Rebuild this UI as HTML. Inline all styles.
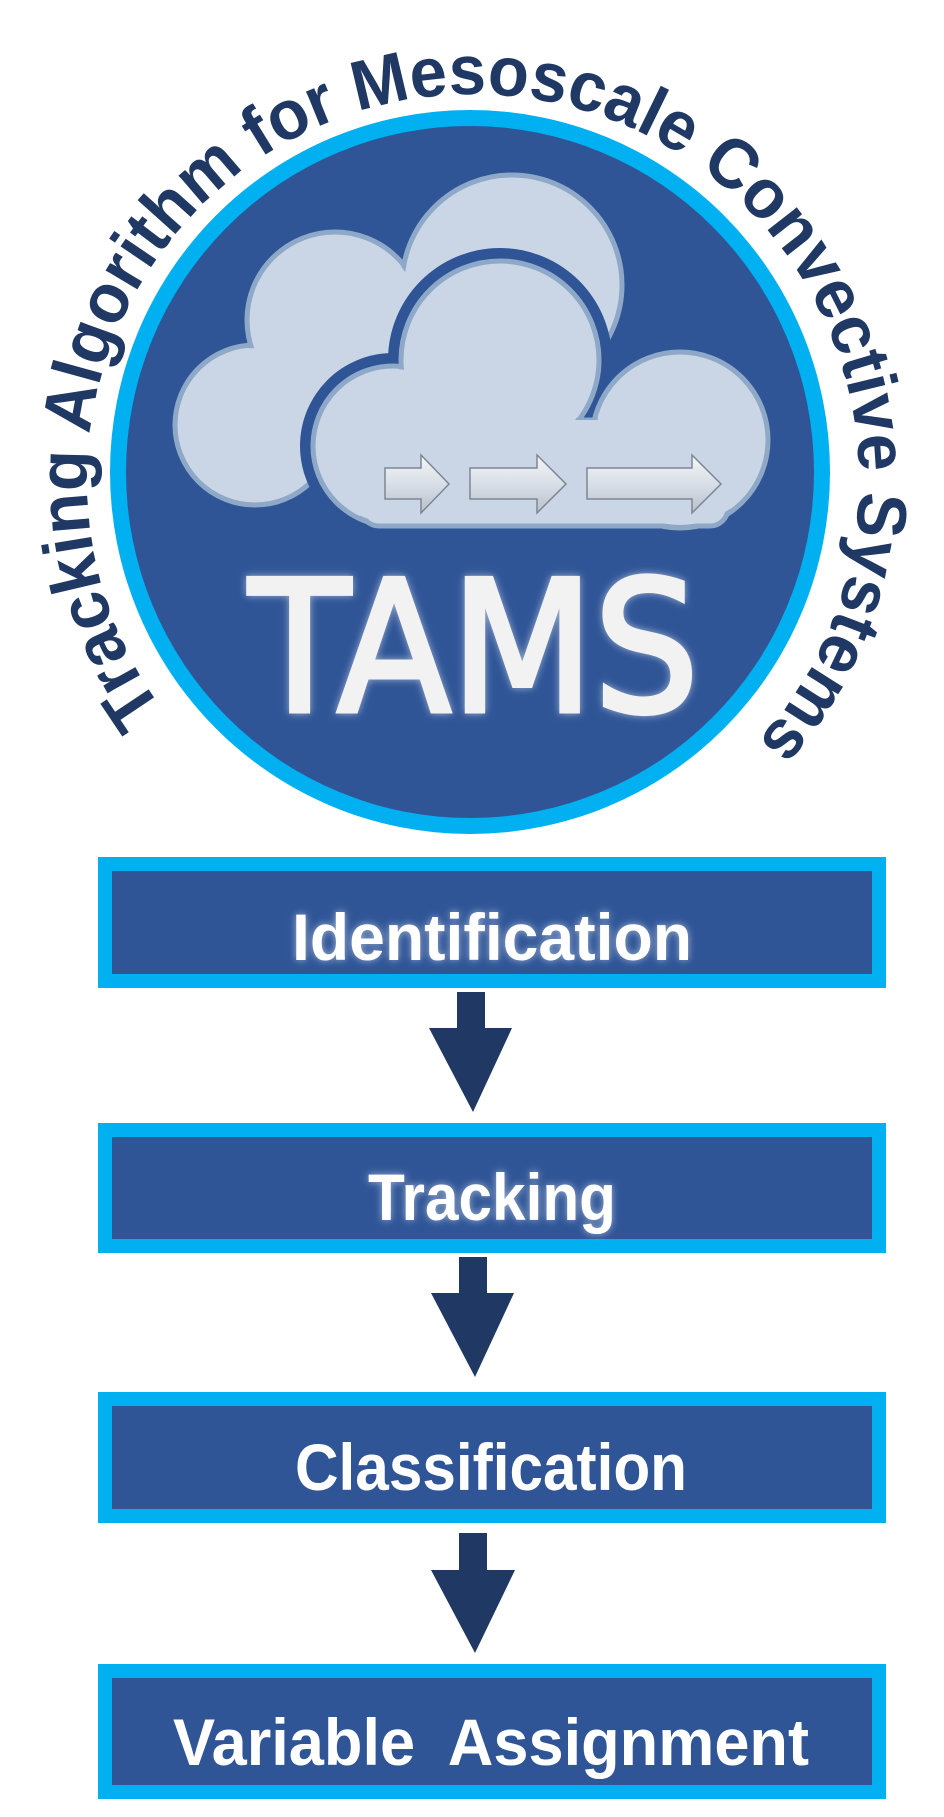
<!DOCTYPE html>
<html><head><meta charset="utf-8"><style>
html,body{margin:0;padding:0;background:#fff;}
svg{display:block;}
</style></head><body>
<svg width="944" height="1817" viewBox="0 0 944 1817" xmlns="http://www.w3.org/2000/svg">
<defs>
<filter id="glow" x="-10%" y="-20%" width="120%" height="140%">
<feGaussianBlur in="SourceAlpha" stdDeviation="4" result="b"/>
<feFlood flood-color="#ffffff" flood-opacity="0.55"/>
<feComposite in2="b" operator="in" result="g"/>
<feMerge><feMergeNode in="g"/><feMergeNode in="SourceGraphic"/></feMerge>
</filter>
<linearGradient id="ag" x1="0" y1="0" x2="0" y2="1">
<stop offset="0" stop-color="#f4f6f9"/><stop offset="0.5" stop-color="#d9dfe7"/><stop offset="1" stop-color="#b8c0cb"/>
</linearGradient>
<path id="arc" d="M163,710 A386,386 0 1 1 763,735"/>
</defs>

<ellipse cx="470" cy="472" rx="360" ry="362" fill="#00B0F0"/>
<ellipse cx="470" cy="472" rx="344" ry="346" fill="#2F5597"/>

<g fill="#CAD6E6" stroke="#8EA8C8" stroke-width="5">
<circle cx="255" cy="425" r="80"/>
<circle cx="335" cy="320" r="88"/>
<circle cx="512" cy="285" r="110"/>
</g>
<g fill="#CAD6E6">
<circle cx="255" cy="425" r="77"/>
<circle cx="335" cy="320" r="85"/>
<circle cx="512" cy="285" r="107"/>
</g>
<g fill="#2F5597">
<circle cx="393" cy="446" r="93"/>
<circle cx="500" cy="360" r="112"/>
<circle cx="680" cy="440" r="101"/>
<rect x="350" y="420" width="390" height="119" rx="24"/>
</g>
<g fill="#CAD6E6" stroke="#8EA8C8" stroke-width="5">
<circle cx="393" cy="446" r="80"/>
<circle cx="500" cy="360" r="99"/>
<circle cx="680" cy="440" r="88"/>
<rect x="361" y="420" width="367" height="106" rx="18"/>
</g>
<g fill="#CAD6E6">
<circle cx="393" cy="446" r="77"/>
<circle cx="500" cy="360" r="96"/>
<circle cx="680" cy="440" r="85"/>
<rect x="364" y="420" width="361" height="103" rx="16"/>
</g>

<g fill="url(#ag)" stroke="#7d8794" stroke-width="1.5">
<polygon points="385,468 421,468 421,455 449,484 421,513 421,499 385,499"/>
<polygon points="470,468 537,468 537,455 566,484 537,513 537,499 470,499"/>
<polygon points="587,468 692,468 692,455 721,484 692,513 692,499 587,499"/>
</g>

<text x="249" y="711" textLength="450" lengthAdjust="spacingAndGlyphs" font-family="'DejaVu Sans','Liberation Sans',sans-serif" font-size="182" fill="#F2F2F2" stroke="#F2F2F2" stroke-width="5" filter="url(#glow)">TAMS</text>

<text font-family="'Liberation Sans',sans-serif" font-weight="bold" font-size="70" fill="#203864">
<textPath href="#arc" textLength="1745" lengthAdjust="spacingAndGlyphs">Tracking Algorithm for Mesoscale Convective Systems</textPath>
</text>

<g fill="#2F5597" stroke="#00B0F0" stroke-width="14">
<rect x="105" y="864" width="774" height="117"/>
<rect x="105" y="1130" width="774" height="116"/>
<rect x="105" y="1399" width="774" height="117"/>
<rect x="105" y="1671" width="774" height="121"/>
</g>
<g font-family="'Liberation Sans',sans-serif" font-weight="bold" font-size="66" fill="#ffffff">
<text x="292" y="960" textLength="400" lengthAdjust="spacingAndGlyphs" filter="url(#glow)">Identification</text>
<text x="368" y="1220" textLength="248" lengthAdjust="spacingAndGlyphs" filter="url(#glow)">Tracking</text>
<text x="295" y="1490" textLength="392" lengthAdjust="spacingAndGlyphs">Classification</text>
<text x="173" y="1765" textLength="636" lengthAdjust="spacingAndGlyphs" xml:space="preserve">Variable  Assignment</text>
</g>

<g fill="#203864">
<polygon points="457,992 485,992 485,1028 512,1028 473,1112 429,1028 457,1028"/>
<polygon points="459,1257 487,1257 487,1293 514,1293 475,1377 431,1293 459,1293"/>
<polygon points="459,1533 487,1533 487,1570 515,1570 475,1653 431,1570 459,1570"/>
</g>
</svg>
</body></html>
